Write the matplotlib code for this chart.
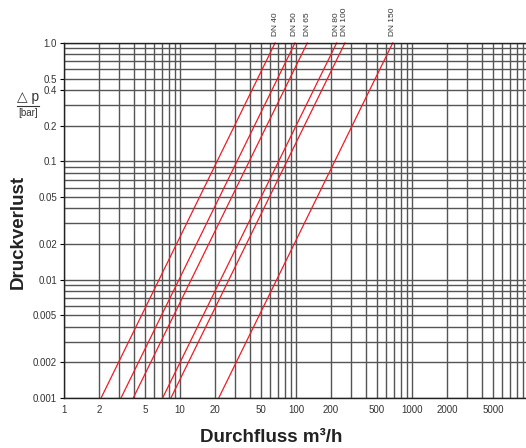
import numpy as np
import matplotlib.pyplot as plt
from matplotlib.ticker import FixedLocator, LogLocator, NullFormatter
from matplotlib.lines import Line2D

plt.rcParams['font.family'] = ['Liberation Sans', 'DejaVu Sans']

sizes = ["DN 40", "DN 50", "DN 65", "DN 80", "DN 100", "DN 150"]
kv = [66, 98, 125, 224, 264, 682]

x_ticks = [1, 2, 5, 10, 20, 50, 100, 200, 500, 1000, 2000, 5000]
x_labels = ["1", "2", "5", "10", "20", "50", "100", "200", "500", "1000", "2000", "5000"]
y_ticks = [1.0, 0.5, 0.4, 0.2, 0.1, 0.05, 0.02, 0.01, 0.005, 0.002, 0.001]
y_labels = ["1.0", "0.5", "0.4", "0.2", "0.1", "0.05", "0.02", "0.01", "0.005", "0.002", "0.001"]

fig = plt.figure(figsize=(5.26, 4.48), dpi=100)
ax = fig.add_axes([64 / 526, 50 / 448, 464 / 526, 355 / 448])
ax.set_xscale('log')
ax.set_yscale('log')
ax.set_xlim(1, 10000)
ax.set_ylim(0.001, 1.0)

ax.xaxis.set_major_locator(FixedLocator(x_ticks))
ax.xaxis.set_minor_locator(LogLocator(subs=np.arange(2, 10)))
ax.yaxis.set_major_locator(FixedLocator(y_ticks))
ax.yaxis.set_minor_locator(LogLocator(subs=np.arange(2, 10)))
ax.set_xticklabels(x_labels)
ax.set_yticklabels(y_labels)
ax.xaxis.set_minor_formatter(NullFormatter())
ax.yaxis.set_minor_formatter(NullFormatter())

ax.grid(which='both', color='#555555', linewidth=1.0)
ax.set_axisbelow(True)
ax.tick_params(axis='x', which='both', length=0, pad=5, labelsize=7, labelcolor='#333333')
ax.tick_params(axis='y', which='major', length=3, width=0.8, pad=2, labelsize=7, labelcolor='#333333')
ax.tick_params(axis='y', which='minor', length=0)

ax.spines['right'].set_visible(False)
for side in ['left', 'bottom', 'top']:
    ax.spines[side].set_color('#222222')
    ax.spines[side].set_linewidth(1.0)

for name, k in zip(sizes, kv):
    q = np.geomspace(k * np.sqrt(0.001), k, 50)
    ax.plot(q, (q / k) ** 2, color='#ee1c25', linewidth=0.9, clip_on=False)
    ax.annotate(name, xy=(k, 1.0), xytext=(0, 5), textcoords='offset points',
                rotation=90, ha='center', va='bottom', fontsize=6, color='#333333')

fig.text(271 / 526, 1 - 437 / 448, "Durchfluss m³/h", ha='center', va='center',
         fontsize=13.5, fontweight='bold', color='#222222')
fig.text(18 / 526, 1 - 232 / 448, "Druckverlust", rotation=90, ha='center', va='center',
         fontsize=13.5, fontweight='bold', color='#222222')
fig.text(28 / 526, 1 - 97 / 448, "△ p", ha='center', va='center', fontsize=10, color='#333333')
fig.text(28 / 526, 1 - 113 / 448, "[bar]", ha='center', va='center', fontsize=7, color='#333333')
fig.add_artist(Line2D([17 / 526, 39 / 526], [1 - 106 / 448, 1 - 106 / 448],
                      color='#333333', linewidth=0.8))

fig.savefig("out.png", dpi=100)
